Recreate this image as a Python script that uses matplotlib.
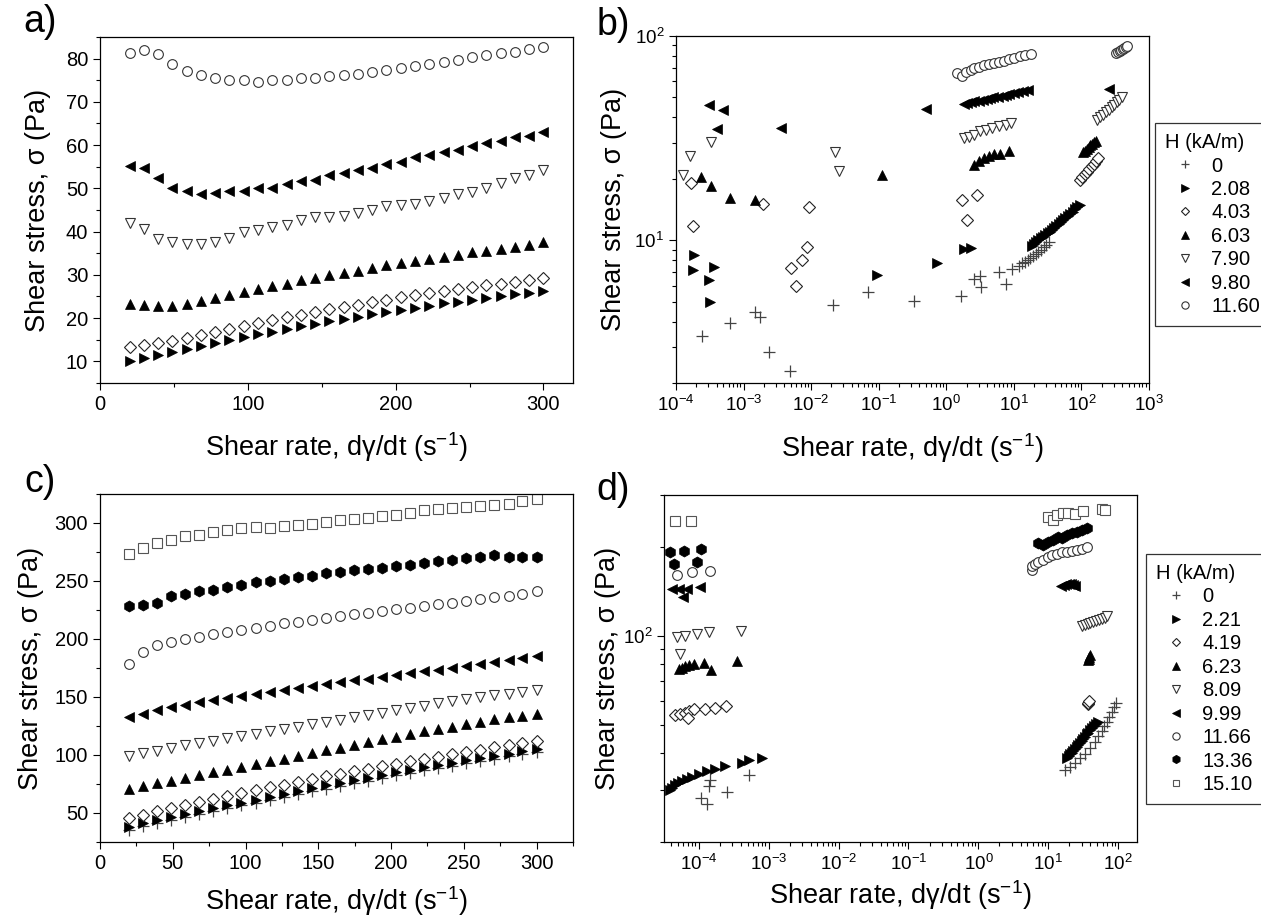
import matplotlib
matplotlib.use("Agg")
import matplotlib.pyplot as plt
import numpy as np
from matplotlib.ticker import (LogLocator, NullFormatter, MultipleLocator)

plt.rcParams["font.family"] = ["Liberation Sans", "DejaVu Sans"]
plt.rcParams["mathtext.fontset"] = "custom"
plt.rcParams["mathtext.rm"] = "Liberation Sans"
plt.rcParams["mathtext.it"] = "Liberation Sans:italic"
plt.rcParams["mathtext.bf"] = "Liberation Sans:bold"
plt.rcParams["mathtext.default"] = "regular"

# ---------------- panel a / c : linear sweeps ----------------
rate_lin = [20, 29.7, 39.3, 49, 58.6, 68.3, 77.9, 87.6, 97.2, 106.9, 116.6, 126.2, 135.9, 145.5, 155.2,
            164.8, 174.5, 184.1, 193.8, 203.4, 213.1, 222.8, 232.4, 242.1, 251.7, 261.4, 271.0, 280.7, 290.3, 300]

a_208 = [10.0, 10.7, 11.5, 12.2, 12.9, 13.6, 14.3, 15.0, 15.7, 16.3, 16.9, 17.5, 18.1, 18.6, 19.3,
         19.8, 20.3, 20.9, 21.4, 21.9, 22.4, 22.9, 23.4, 23.8, 24.3, 24.7, 25.1, 25.5, 25.9, 26.3]
a_403 = [13.4, 13.7, 14.2, 14.8, 15.5, 16.2, 16.9, 17.6, 18.2, 18.9, 19.6, 20.2, 20.8, 21.4, 22.0,
         22.6, 23.1, 23.7, 24.3, 24.9, 25.4, 25.9, 26.3, 26.8, 27.2, 27.6, 28.0, 28.4, 28.8, 29.2]
a_603 = [23.3, 23.0, 22.8, 22.9, 23.3, 24.0, 24.6, 25.4, 26.1, 26.7, 27.4, 28.0, 28.7, 29.3, 29.9,
         30.4, 31.0, 31.6, 32.2, 32.7, 33.2, 33.7, 34.2, 34.7, 35.2, 35.6, 36.0, 36.5, 37.0, 37.5]
a_790 = [41.9, 40.5, 38.4, 37.7, 37.2, 37.2, 37.7, 38.6, 39.8, 40.3, 41.0, 41.5, 42.6, 43.4, 43.4,
         43.6, 44.2, 45.1, 45.9, 46.2, 46.5, 47.1, 47.7, 48.6, 49.2, 50.1, 51.2, 52.3, 53.2, 54.3]
a_980 = [55.1, 54.7, 52.4, 50.2, 49.5, 48.8, 48.9, 49.5, 49.5, 50.0, 50.2, 51.0, 51.6, 52.0, 53.0,
         53.6, 54.3, 54.8, 55.7, 56.2, 57.2, 57.7, 58.4, 58.9, 59.8, 60.4, 61.0, 61.8, 62.1, 63.0]
a_1160 = [81.4, 82.1, 81.1, 78.8, 77.2, 76.2, 75.5, 75.0, 75.0, 74.7, 75.1, 75.0, 75.5, 75.5, 76.0,
          76.2, 76.5, 76.9, 77.3, 77.8, 78.3, 78.7, 79.2, 79.6, 80.4, 80.8, 81.2, 81.6, 82.2, 82.8]

c_0 = [35.5, 38.5, 41.5, 44.0, 46.5, 49.0, 51.5, 54.0, 56.5, 59.0, 61.5, 64.0, 66.5, 68.8, 71.0,
       73.5, 75.8, 78.0, 80.3, 82.5, 84.7, 86.8, 88.8, 90.8, 92.8, 94.8, 96.8, 98.8, 100.8, 103.0]
c_221 = [38.0, 41.0, 43.8, 46.5, 49.0, 51.5, 54.0, 56.5, 59.0, 61.5, 64.0, 66.5, 69.0, 71.5, 73.8,
         76.0, 78.3, 80.5, 82.8, 85.0, 87.2, 89.3, 91.3, 93.3, 95.3, 97.2, 99.2, 101.2, 103.2, 105.5]
c_419 = [45.5, 48.5, 51.5, 54.5, 57.0, 59.5, 62.0, 64.5, 67.0, 69.5, 72.0, 74.5, 77.0, 79.5, 81.5,
         83.5, 86.0, 88.0, 90.5, 92.5, 94.5, 96.5, 98.5, 100.5, 102.5, 104.5, 106.5, 108.5, 110.5, 112.5]
c_623 = [71.0, 73.5, 75.8, 78.0, 80.5, 83.0, 85.3, 87.5, 89.8, 92.0, 94.5, 96.8, 99.2, 101.5, 104.0,
         106.3, 108.7, 111.0, 113.5, 115.8, 118.0, 120.3, 122.5, 124.5, 126.8, 128.8, 130.8, 132.5, 134.0, 135.5]
c_809 = [99.5, 101.5, 103.5, 106.0, 108.5, 110.5, 112.5, 114.5, 116.5, 118.5, 120.5, 122.5, 124.5, 126.5, 128.5,
         130.5, 132.5, 134.5, 136.5, 138.5, 140.5, 142.5, 144.5, 146.5, 148.5, 150.0, 151.5, 153.0, 154.5, 156.0]
c_999 = [132.5, 135.5, 138.5, 141.0, 143.2, 145.5, 147.5, 149.5, 151.2, 152.8, 154.5, 156.0, 158.0, 159.5, 161.2,
         162.8, 164.3, 165.8, 167.5, 169.0, 170.5, 172.0, 173.5, 175.0, 176.8, 178.5, 180.2, 181.8, 183.5, 185.5]
c_1166 = [178.5, 188.5, 194.5, 197.5, 199.8, 202.0, 204.0, 205.7, 207.8, 209.5, 211.5, 213.5, 215.0, 216.8, 218.2,
          219.8, 221.2, 222.5, 224.0, 225.5, 226.8, 228.3, 229.8, 231.2, 232.7, 234.2, 235.8, 237.5, 239.2, 241.5]
c_1336 = [228.4, 229.3, 230.7, 236.8, 238.8, 241.1, 242.3, 245.1, 246.3, 249.2, 250.3, 252.1, 253.2, 254.7, 257.3,
          257.9, 259.3, 260.7, 261.3, 263.0, 263.6, 265.6, 267.4, 268.2, 269.7, 270.6, 272.0, 270.3, 270.6, 270.3]
c_1510 = [273.2, 278.1, 282.7, 285.6, 288.5, 289.9, 292.5, 294.2, 296.0, 296.8, 296.0, 297.4, 298.6, 299.4, 300.9,
          302.3, 303.5, 304.3, 306.1, 306.9, 308.7, 311.0, 312.1, 313.3, 313.6, 314.7, 315.9, 316.7, 319.1, 320.5]

# ---------------- panel b : log sweep, field set 1 ----------------
b_0_x = [2.42e-4, 6.4e-4, 1.48e-3, 1.75e-3, 2.39e-3, 4.8e-3, 0.021, 0.070, 0.33, 1.64, 2.59, 3.14, 3.25, 6.1, 7.67,
         9.44, 12.0, 13, 14.5, 16, 17.5, 19, 21, 23, 25, 27.5, 30, 33]
b_0_y = [3.38, 3.95, 4.47, 4.22, 2.84, 2.29, 4.80, 5.60, 5.04, 5.32, 6.43, 6.67, 5.89, 7.01, 6.14,
         7.25, 7.5, 7.7, 7.85, 8.0, 8.2, 8.4, 8.6, 8.8, 9.0, 9.25, 9.5, 9.75]
b_208_x = [1.82e-4, 1.77e-4, 3.6e-4, 3.04e-4, 3.2e-4, 0.094, 0.73, 1.84, 2.31,
           18.5, 20, 21.5, 23, 25, 27, 29, 31.5, 34, 36.5, 39.5, 42.5, 46, 50, 54, 58, 63, 68, 74, 80, 87, 94]
b_208_y = [8.45, 7.13, 7.43, 6.38, 5.01, 6.75, 7.76, 9.02, 9.18,
           9.4, 9.6, 9.8, 10.0, 10.2, 10.4, 10.6, 10.8, 11.0, 11.2, 11.5, 11.7, 12.0, 12.3, 12.6, 12.9, 13.2,
           13.5, 13.8, 14.2, 14.5, 14.9]
b_403_x = [1.67e-4, 1.77e-4, 1.92e-3, 9.33e-3, 8.7e-3, 7.34e-3, 5.03e-3, 5.97e-3, 1.73, 2.8, 2.06,
           95, 103, 112, 121, 131, 142, 153, 165, 178]
b_403_y = [19.1, 11.8, 15.1, 14.5, 9.27, 7.98, 7.29, 6.0, 15.8, 16.7, 12.6,
           19.8, 20.4, 21.0, 21.7, 22.3, 23.0, 23.7, 24.5, 25.2]
b_603_x = [2.33e-4, 3.29e-4, 6.39e-4, 1.46e-3, 0.111, 2.59, 3.07, 3.65, 4.33, 5.15, 6.24, 8.6,
           105, 112, 120, 128, 136, 145, 155, 165]
b_603_y = [20.3, 18.4, 16.1, 15.7, 20.8, 23.4, 24.3, 25.3, 25.9, 26.5, 26.5, 27.2,
           27.0, 27.5, 28.0, 28.6, 29.1, 29.6, 30.1, 30.6]
b_790_x = [1.26e-4, 1.62e-4, 3.29e-4, 0.0228, 0.0259, 1.84, 2.19, 2.59, 3.14, 3.84, 4.7, 6.1, 7.67, 9.1,
           170, 190, 210, 232, 255, 280, 305, 335, 365, 400]
b_790_y = [20.9, 25.9, 30.1, 26.9, 21.9, 31.6, 32.2, 32.8, 34.1, 34.8, 35.4, 36.1, 36.7, 37.5,
           38.8, 40.0, 41.2, 42.4, 43.6, 44.8, 46.0, 47.3, 48.6, 50.0]
b_980_x = [3.04e-4, 4.92e-4, 4.05e-4, 3.56e-3, 0.50, 1.84, 2.05, 2.31, 2.6, 3.0, 3.45, 3.96, 4.45, 4.98,
           5.8, 6.85, 7.7, 8.6, 10.0, 11.5, 13.8, 16.2, 253]
b_980_y = [45.8, 43.2, 35.0, 35.6, 43.9, 46.6, 47.0, 47.3, 47.8, 48.3, 48.7, 49.2, 49.6, 50.0,
           50.5, 51.0, 51.5, 52.0, 52.6, 53.1, 53.8, 54.5, 55.0]
b_1160_x = [1.46, 1.73, 1.94, 2.31, 2.59, 3.07, 3.65, 4.33, 5.15, 6.11, 7.26, 8.6, 10.2, 12.2, 14.4, 18.1,
            330, 350, 370, 390, 410, 430, 450, 470]
b_1160_y = [66.2, 63.8, 66.9, 68.2, 69.5, 70.8, 72.2, 72.7, 73.6, 74.4, 75.5, 77.0, 77.8, 79.8, 80.7, 81.4,
            82.5, 83.5, 84.5, 85.5, 86.5, 87.5, 88.5, 89.5]

# ---------------- panel d : log sweep, field set 2 ----------------
d_0_x = [1.09e-4, 1.31e-4, 1.39e-4, 1.47e-4, 2.54e-4, 5.18e-4,
         17.3, 20.4, 24, 28.3, 33.4, 39.4, 46.4, 51.8, 57.8, 63.1, 68.1, 74.3, 80.3, 85.8, 91.6]
d_0_y = [28.3, 27.0, 30.9, 32.4, 29.5, 33.8,
         35.1, 36.0, 37.1, 38.4, 39.9, 41.5, 43.7, 45.7, 47.6, 49.4, 51.1, 53.1, 55.2, 57.4, 59.3]
d_221_x = [3.94e-5, 4.16e-5, 4.54e-5, 5.07e-5, 5.78e-5, 6.81e-5, 8.03e-5, 1.0e-4, 1.31e-4, 1.73e-4, 2.4e-4,
           4.16e-4, 5.18e-4, 8.0e-4,
           18.5, 19.5, 20.5, 21.5, 22.8, 24, 25.3, 26.7, 28.2, 29.8, 31.5, 33.3, 35.2, 37.2, 39.5, 42, 44.5,
           47.5, 50.5]
d_221_y = [30.0, 30.6, 31.2, 31.8, 32.3, 32.8, 33.3, 34.0, 34.7, 35.4, 36.1,
           37.0, 37.8, 38.5,
           38.5, 39.0, 39.6, 40.1, 40.8, 41.4, 42.0, 42.7, 43.4, 44.1, 44.8, 45.5, 46.3, 47.0, 47.9, 48.7, 49.5,
           50.3, 51.1]
d_419_x = [4.54e-5, 5.47e-5, 6.45e-5, 7.2e-5, 8.5e-5, 7.05e-5, 1.24e-4, 1.69e-4, 2.45e-4, 36.5, 37.0, 37.5]
d_419_y = [53.8, 54.2, 54.7, 55.6, 56.3, 52.7, 56.6, 57.0, 57.6, 58.5, 59.3, 60.0]
d_623_x = [5.18e-5, 5.78e-5, 6.45e-5, 7.2e-5, 8.5e-5, 1.18e-4, 1.52e-4, 3.53e-4, 36.5, 37.5, 38.5, 39.5]
d_623_y = [77.4, 78.0, 78.8, 79.4, 80.5, 81.1, 76.8, 82.0, 82.5, 83.5, 84.5, 86.0]
d_809_x = [4.9e-5, 6.45e-5, 9.46e-5, 1.42e-4, 4.07e-4, 5.47e-5,
           30, 33, 36.5, 40, 44, 48.5, 53, 58, 64, 70]
d_809_y = [99.3, 100.0, 101.5, 102.8, 103.6, 86.5,
           108, 109, 110, 110.8, 111.5, 112.3, 113, 114, 115, 116.5]
d_999_x = [4.16e-5, 5.18e-5, 6.89e-5, 1.06e-4, 5.9e-5, 15.0, 16.5, 18.0, 19.5, 21.0, 22.5, 24.0]
d_999_y = [143.6, 144.0, 144.5, 146.5, 135.5, 148, 149, 149.5, 150, 150, 149, 148]
d_1166_x = [4.95e-5, 8.03e-5, 1.44e-4, 5.78, 5.78, 6.46, 7.2, 8.48, 10, 11.2, 13.2, 15.5, 18.3, 21.5, 25.4, 29.9,
            35.3]
d_1166_y = [161, 164, 166, 167, 172, 175, 178, 181, 185, 188, 190, 192, 193, 194, 195, 197, 199.5]
d_1336_x = [3.89e-5, 6.1e-5, 1.07e-4, 4.44e-5, 9.57e-5, 7.03, 8.48, 10, 11.8, 13.9, 15.5, 18.3, 21.5, 25.4, 29.9,
            35.3]
d_1336_y = [192, 194, 197, 175, 178, 206, 203, 208, 211, 217, 214, 219, 223, 225, 228, 231]
d_1510_x = [4.64e-5, 7.86e-5, 10, 11.8, 13.1, 16.4, 19.3, 24, 31.6, 57.8, 64.6]
d_1510_y = [244, 245, 252, 247, 256, 260, 261, 259, 265, 268, 267]

labels_b = ["0", "2.08", "4.03", "6.03", "7.90", "9.80", "11.60"]
labels_d = ["0", "2.21", "4.19", "6.23", "8.09", "9.99", "11.66", "13.36", "15.10"]

# marker styles, one per field level (shared between panels)
STY = [
    dict(marker="+", color="#444444", ms=8, mew=0.9, mfc="none"),
    dict(marker=">", color="black", ms=7, mew=0.5, mfc="black"),
    dict(marker="D", color="#222222", ms=6, mew=0.8, mfc="white"),
    dict(marker="^", color="black", ms=7, mew=0.5, mfc="black"),
    dict(marker="v", color="#333333", ms=7.5, mew=0.8, mfc="white"),
    dict(marker="<", color="black", ms=7, mew=0.5, mfc="black"),
    dict(marker="o", color="#333333", ms=7, mew=0.8, mfc="white"),
    dict(marker="h", color="black", ms=8, mew=0.5, mfc="black"),
    dict(marker="s", color="#555555", ms=6.5, mew=0.8, mfc="white"),
]

TICK_FS = 14.5
LOG_TICK_FS = 13.5
LABEL_FS = 19.5
LEG_FS = 14.5
XLABEL = "Shear rate, d\u03b3/dt (s$^{-1}$)"
YLABEL = "Shear stress, \u03c3 (Pa)"

fig = plt.figure(figsize=(12.61, 9.18), dpi=100)
W, H = 1261.0, 918.0


def box(l, t, r, b):
    return [l / W, 1 - b / H, (r - l) / W, (b - t) / H]


def style(ax, fs):
    ax.tick_params(which="both", direction="out", top=False, right=False, labelsize=fs, width=0.8)
    ax.tick_params(which="major", length=5)
    ax.tick_params(which="minor", length=3)
    for s in ax.spines.values():
        s.set_linewidth(0.9)


def pt(ax, x, y, i):
    s = STY[i]
    return ax.plot(x, y, linestyle="none", marker=s["marker"], color=s["color"], markersize=s["ms"],
                   markeredgewidth=s["mew"], markerfacecolor=s["mfc"])[0]


# panel a
ax_a = fig.add_axes(box(100, 37, 573, 383))
for i, ser in zip([1, 2, 3, 4, 5, 6], [a_208, a_403, a_603, a_790, a_980, a_1160]):
    pt(ax_a, rate_lin, ser, i)
ax_a.set_xlim(0, 320)
ax_a.set_ylim(5, 85)
ax_a.xaxis.set_major_locator(MultipleLocator(100))
ax_a.xaxis.set_minor_locator(MultipleLocator(50))
ax_a.yaxis.set_major_locator(MultipleLocator(10))
ax_a.yaxis.set_minor_locator(MultipleLocator(5))
style(ax_a, TICK_FS)
ax_a.set_xlabel(XLABEL, fontsize=LABEL_FS, labelpad=12)
ax_a.set_ylabel(YLABEL, fontsize=LABEL_FS, labelpad=11)

# panel c
ax_c = fig.add_axes(box(100, 494, 573, 842))
for i, ser in enumerate([c_0, c_221, c_419, c_623, c_809, c_999, c_1166, c_1336, c_1510]):
    pt(ax_c, rate_lin, ser, i)
ax_c.set_xlim(0, 325)
ax_c.set_ylim(25, 325)
ax_c.xaxis.set_major_locator(MultipleLocator(50))
ax_c.xaxis.set_minor_locator(MultipleLocator(25))
ax_c.yaxis.set_major_locator(MultipleLocator(50))
ax_c.yaxis.set_minor_locator(MultipleLocator(25))
style(ax_c, TICK_FS)
ax_c.set_xlabel(XLABEL, fontsize=LABEL_FS, labelpad=8)
ax_c.set_ylabel(YLABEL, fontsize=LABEL_FS, labelpad=8)

# panel b
ax_b = fig.add_axes(box(676, 36, 1149, 383))
hb = []
for i, (x, y) in enumerate([(b_0_x, b_0_y), (b_208_x, b_208_y), (b_403_x, b_403_y), (b_603_x, b_603_y),
                            (b_790_x, b_790_y), (b_980_x, b_980_y), (b_1160_x, b_1160_y)]):
    hb.append(pt(ax_b, x, y, i))
ax_b.set_xscale("log")
ax_b.set_yscale("log")
ax_b.set_xlim(1e-4, 1e3)
ax_b.set_ylim(2, 100)

# panel d
ax_d = fig.add_axes(box(664, 495, 1137, 842))
hd = []
for i, (x, y) in enumerate([(d_0_x, d_0_y), (d_221_x, d_221_y), (d_419_x, d_419_y), (d_623_x, d_623_y),
                            (d_809_x, d_809_y), (d_999_x, d_999_y), (d_1166_x, d_1166_y),
                            (d_1336_x, d_1336_y), (d_1510_x, d_1510_y)]):
    hd.append(pt(ax_d, x, y, i))
ax_d.set_xscale("log")
ax_d.set_yscale("log")
ax_d.set_xlim(3.2e-5, 185)
ax_d.set_ylim(20, 300)

for ax in (ax_b, ax_d):
    for axis in (ax.xaxis, ax.yaxis):
        axis.set_major_locator(LogLocator(base=10, numticks=20))
        axis.set_minor_locator(LogLocator(base=10, subs=np.arange(2, 10), numticks=100))
        axis.set_minor_formatter(NullFormatter())
    style(ax, LOG_TICK_FS)

ax_b.set_xlabel(XLABEL, fontsize=LABEL_FS, labelpad=12)
ax_b.set_ylabel(YLABEL, fontsize=LABEL_FS, labelpad=5)
ax_d.set_xlabel(XLABEL, fontsize=LABEL_FS, labelpad=3)
ax_d.set_ylabel(YLABEL, fontsize=LABEL_FS, labelpad=1)

leg_kw = dict(title="H (kA/m)", loc="upper left", fontsize=LEG_FS, title_fontsize=LEG_FS, frameon=True,
              fancybox=False, edgecolor="black", markerscale=0.75, handlelength=2.0, handletextpad=0.3,
              labelspacing=0.22, borderpad=0.5, borderaxespad=0)
leg_b = fig.legend(hb, labels_b, bbox_to_anchor=(1155 / W, 1 - 123 / H), **leg_kw)
leg_d = fig.legend(hd, labels_d, bbox_to_anchor=(1146 / W, 1 - 554 / H), **leg_kw)
for leg in (leg_b, leg_d):
    leg._legend_box.align = "left"
    leg.get_frame().set_linewidth(0.9)

for txt, x, y in [("a)", 40, 22), ("b)", 613, 25), ("c)", 40, 482), ("d)", 613, 490)]:
    fig.text(x / W, 1 - y / H, txt, fontsize=27, ha="center", va="center")

fig.savefig("out.png", dpi=100)
